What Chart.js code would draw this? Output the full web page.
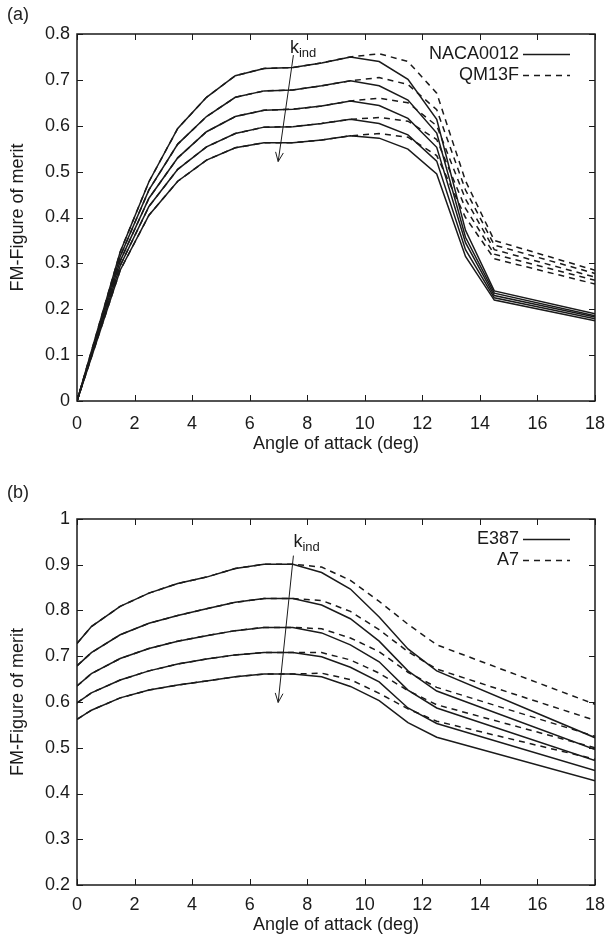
<!DOCTYPE html>
<html>
<head>
<meta charset="utf-8">
<title>FM vs angle of attack</title>
<script src="https://cdn.jsdelivr.net/npm/chart.js@4.4.1/dist/chart.umd.min.js"></script>
<style>
  body { margin: 0; background: #fff; width: 606px; height: 946px; position: relative; overflow: hidden;
         font-family: "Liberation Sans", Arial, sans-serif; }
  .panel { position: absolute; left: 0; width: 606px; }
  .tag { position: absolute; left: 7px; font-size: 18px; color: #222; z-index: 2; }
</style>
</head>
<body>
<div class="tag" style="top:4px">(a)</div>
<div class="panel" style="top:0;height:460px"><canvas id="chartA" width="606" height="460"></canvas></div>
<div class="tag" style="top:482px">(b)</div>
<div class="panel" style="top:470px;height:476px"><canvas id="chartB" width="606" height="476"></canvas></div>

<script>
// datos (angulo en grados, FM)
const angleA = [0, 1.5, 2.5, 3.5, 4.5, 5.5, 6.5, 7.5, 8.5, 9.5, 10.5, 11.5, 12.5, 13.5, 14.5, 18];
const naca0012 = [
  [0, 0.325, 0.478, 0.594, 0.662, 0.709, 0.725, 0.727, 0.737, 0.750, 0.740, 0.701, 0.614, 0.372, 0.240, 0.190],
  [0, 0.315, 0.460, 0.560, 0.620, 0.662, 0.676, 0.678, 0.687, 0.698, 0.687, 0.656, 0.584, 0.357, 0.235, 0.186],
  [0, 0.305, 0.442, 0.530, 0.587, 0.620, 0.634, 0.636, 0.643, 0.654, 0.644, 0.616, 0.553, 0.345, 0.230, 0.183],
  [0, 0.295, 0.424, 0.505, 0.554, 0.583, 0.597, 0.598, 0.605, 0.614, 0.605, 0.580, 0.523, 0.330, 0.225, 0.179],
  [0, 0.285, 0.405, 0.479, 0.525, 0.552, 0.563, 0.563, 0.569, 0.578, 0.573, 0.549, 0.495, 0.315, 0.220, 0.175]
];
const qm13f = [
  [0, 0.325, 0.478, 0.594, 0.662, 0.709, 0.725, 0.727, 0.737, 0.750, 0.757, 0.740, 0.671, 0.480, 0.350, 0.285],
  [0, 0.315, 0.460, 0.560, 0.620, 0.662, 0.676, 0.678, 0.687, 0.698, 0.705, 0.690, 0.635, 0.460, 0.340, 0.278],
  [0, 0.305, 0.442, 0.530, 0.587, 0.620, 0.634, 0.636, 0.643, 0.654, 0.660, 0.650, 0.600, 0.440, 0.330, 0.270],
  [0, 0.295, 0.424, 0.505, 0.554, 0.583, 0.597, 0.598, 0.605, 0.614, 0.618, 0.610, 0.570, 0.420, 0.320, 0.263],
  [0, 0.285, 0.405, 0.479, 0.525, 0.552, 0.563, 0.563, 0.569, 0.578, 0.583, 0.575, 0.535, 0.400, 0.310, 0.255]
];

const angleB = [0, 0.5, 1.5, 2.5, 3.5, 4.5, 5.5, 6.5, 7.5, 8.5, 9.5, 10.5, 11.5, 12.5, 18];
const e387 = [
  [0.728, 0.765, 0.809, 0.838, 0.859, 0.873, 0.892, 0.901, 0.901, 0.883, 0.847, 0.786, 0.716, 0.668, 0.522],
  [0.679, 0.708, 0.747, 0.772, 0.789, 0.804, 0.818, 0.826, 0.826, 0.812, 0.782, 0.733, 0.668, 0.624, 0.496],
  [0.635, 0.662, 0.695, 0.717, 0.733, 0.745, 0.756, 0.763, 0.763, 0.751, 0.725, 0.688, 0.626, 0.587, 0.472],
  [0.598, 0.620, 0.648, 0.668, 0.683, 0.694, 0.703, 0.708, 0.708, 0.699, 0.676, 0.644, 0.587, 0.553, 0.450],
  [0.562, 0.582, 0.609, 0.626, 0.637, 0.646, 0.655, 0.661, 0.661, 0.655, 0.634, 0.603, 0.555, 0.523, 0.428]
];
const a7 = [
  [0.728, 0.765, 0.809, 0.838, 0.859, 0.873, 0.892, 0.901, 0.901, 0.895, 0.866, 0.820, 0.770, 0.725, 0.595],
  [0.679, 0.708, 0.747, 0.772, 0.789, 0.804, 0.818, 0.826, 0.826, 0.822, 0.798, 0.758, 0.710, 0.672, 0.560],
  [0.635, 0.662, 0.695, 0.717, 0.733, 0.745, 0.756, 0.763, 0.763, 0.760, 0.740, 0.710, 0.665, 0.632, 0.525],
  [0.598, 0.620, 0.648, 0.668, 0.683, 0.694, 0.703, 0.708, 0.708, 0.708, 0.692, 0.663, 0.625, 0.594, 0.500],
  [0.562, 0.582, 0.609, 0.626, 0.637, 0.646, 0.655, 0.661, 0.661, 0.663, 0.649, 0.619, 0.585, 0.558, 0.475]
];

const xTicks = [0, 2, 4, 6, 8, 10, 12, 14, 16, 18];
const yTicksA = [0, 0.1, 0.2, 0.3, 0.4, 0.5, 0.6, 0.7, 0.8];
const yTicksB = [0.2, 0.3, 0.4, 0.5, 0.6, 0.7, 0.8, 0.9, 1];

const FONT = '"Liberation Sans", Arial, sans-serif';
const INK = '#1a1a1a';

// marco con ticks hacia adentro (estilo gnuplot)
const framePlugin = {
  id: 'frame',
  afterDraw(chart) {
    const { ctx, chartArea: a, scales } = chart;
    ctx.save();
    ctx.strokeStyle = INK;
    ctx.lineWidth = 1.5;
    ctx.strokeRect(a.left, a.top, a.right - a.left, a.bottom - a.top);
    ctx.lineWidth = 1;
    ctx.beginPath();
    scales.x.ticks.forEach(t => {
      const px = Math.round(scales.x.getPixelForValue(t.value)) + 0.5;
      ctx.moveTo(px, a.bottom); ctx.lineTo(px, a.bottom - 6);
      ctx.moveTo(px, a.top); ctx.lineTo(px, a.top + 6);
    });
    scales.y.ticks.forEach(t => {
      const py = Math.round(scales.y.getPixelForValue(t.value)) + 0.5;
      ctx.moveTo(a.left, py); ctx.lineTo(a.left + 6, py);
      ctx.moveTo(a.right, py); ctx.lineTo(a.right - 6, py);
    });
    ctx.stroke();
    ctx.restore();
  }
};

// leyenda dibujada a mano, arriba a la derecha
const keyPlugin = {
  id: 'key',
  afterDraw(chart, args, opts) {
    const { ctx, chartArea: a } = chart;
    ctx.save();
    ctx.font = '18px ' + FONT;
    ctx.fillStyle = INK;
    ctx.strokeStyle = INK;
    ctx.lineWidth = 1.5;
    ctx.textAlign = 'right';
    ctx.textBaseline = 'middle';
    opts.entries.forEach((e, i) => {
      const y = a.top + 20 + i * 21;
      ctx.fillText(e.text, a.right - 76, y);
      ctx.setLineDash(e.dash);
      ctx.beginPath();
      ctx.moveTo(a.right - 72, y + 0.5);
      ctx.lineTo(a.right - 25, y + 0.5);
      ctx.stroke();
    });
    ctx.restore();
  }
};

// flecha k_ind
const kindPlugin = {
  id: 'kind',
  afterDraw(chart, args, opts) {
    const { ctx, scales: { x, y } } = chart;
    const x0 = x.getPixelForValue(opts.from[0]), y0 = y.getPixelForValue(opts.from[1]);
    const x1 = x.getPixelForValue(opts.to[0]), y1 = y.getPixelForValue(opts.to[1]);
    const ang = Math.atan2(y1 - y0, x1 - x0);
    ctx.save();
    ctx.strokeStyle = INK;
    ctx.lineWidth = 1;
    ctx.beginPath();
    ctx.moveTo(x0, y0); ctx.lineTo(x1, y1);
    ctx.moveTo(x1 - 10 * Math.cos(ang - 0.4), y1 - 10 * Math.sin(ang - 0.4));
    ctx.lineTo(x1, y1);
    ctx.lineTo(x1 - 10 * Math.cos(ang + 0.4), y1 - 10 * Math.sin(ang + 0.4));
    ctx.stroke();
    const lx = x.getPixelForValue(opts.label[0]), ly = y.getPixelForValue(opts.label[1]);
    ctx.fillStyle = INK;
    ctx.textBaseline = 'alphabetic';
    ctx.font = '18px ' + FONT;
    ctx.fillText('k', lx, ly);
    const kw = ctx.measureText('k').width;
    ctx.font = '13px ' + FONT;
    ctx.fillText('ind', lx + kw, ly + 4);
    ctx.restore();
  }
};

function pts(xs, ys) {
  return xs.map((v, i) => ({ x: v, y: ys[i] }));
}

function lineSets(xs, solid, dashed) {
  const sets = [];
  dashed.forEach(ys => sets.push({
    data: pts(xs, ys), borderColor: INK, borderWidth: 1.5, borderDash: [6, 5],
    pointRadius: 0, tension: 0, fill: false
  }));
  solid.forEach(ys => sets.push({
    data: pts(xs, ys), borderColor: INK, borderWidth: 1.5,
    pointRadius: 0, tension: 0, fill: false
  }));
  return sets;
}

function makeChart(id, cfg) {
  const ctx = document.getElementById(id).getContext('2d');
  return new Chart(ctx, {
    type: 'line',
    data: { datasets: lineSets(cfg.xs, cfg.solid, cfg.dashed) },
    options: {
      responsive: false,
      animation: false,
      events: [],
      layout: { padding: { top: cfg.top, right: 11, left: 0, bottom: 0 } },
      scales: {
        x: {
          type: 'linear', min: 0, max: 18,
          afterBuildTicks: s => { s.ticks = xTicks.map(v => ({ value: v })); },
          afterFit: s => { s.height = cfg.xHeight; s.paddingLeft = 0; s.paddingRight = 0; },
          grid: { display: false, drawTicks: false },
          border: { display: false },
          ticks: { color: INK, font: { family: FONT, size: 18 }, padding: cfg.tickPad, maxRotation: 0,
                   callback: v => String(v) },
          title: { display: true, text: 'Angle of attack (deg)', color: INK,
                   font: { family: FONT, size: 18 }, padding: { top: 0, bottom: cfg.titlePad } }
        },
        y: {
          min: cfg.yTicks[0], max: cfg.yTicks[cfg.yTicks.length - 1],
          afterBuildTicks: s => { s.ticks = cfg.yTicks.map(v => ({ value: v })); },
          afterFit: s => { s.width = 77; },
          grid: { display: false, drawTicks: false },
          border: { display: false },
          ticks: { color: INK, font: { family: FONT, size: 18 }, padding: 7,
                   callback: v => String(v) },
          title: { display: true, text: 'FM-Figure of merit', color: INK,
                   font: { family: FONT, size: 18 }, padding: { top: 7, bottom: 0 } }
        }
      },
      plugins: {
        legend: { display: false },
        tooltip: { enabled: false },
        key: { entries: cfg.key },
        kind: cfg.kind
      }
    },
    plugins: [framePlugin, keyPlugin, kindPlugin]
  });
}

document.addEventListener('DOMContentLoaded', function() {
  makeChart('chartA', {
    xs: angleA, solid: naca0012, dashed: qm13f, yTicks: yTicksA,
    top: 34, xHeight: 59, tickPad: 12, titlePad: 5,
    key: [{ text: 'NACA0012', dash: [] }, { text: 'QM13F', dash: [6, 5] }],
    kind: { from: [7.52, 0.754], to: [6.99, 0.522], label: [7.40, 0.759] }
  });
  makeChart('chartB', {
    xs: angleB, solid: e387, dashed: a7, yTicks: yTicksB,
    top: 49, xHeight: 61, tickPad: 9, titlePad: 10,
    key: [{ text: 'E387', dash: [] }, { text: 'A7', dash: [6, 5] }],
    kind: { from: [7.52, 0.92], to: [6.99, 0.599], label: [7.52, 0.939] }
  });
});
</script>
</body>
</html>
